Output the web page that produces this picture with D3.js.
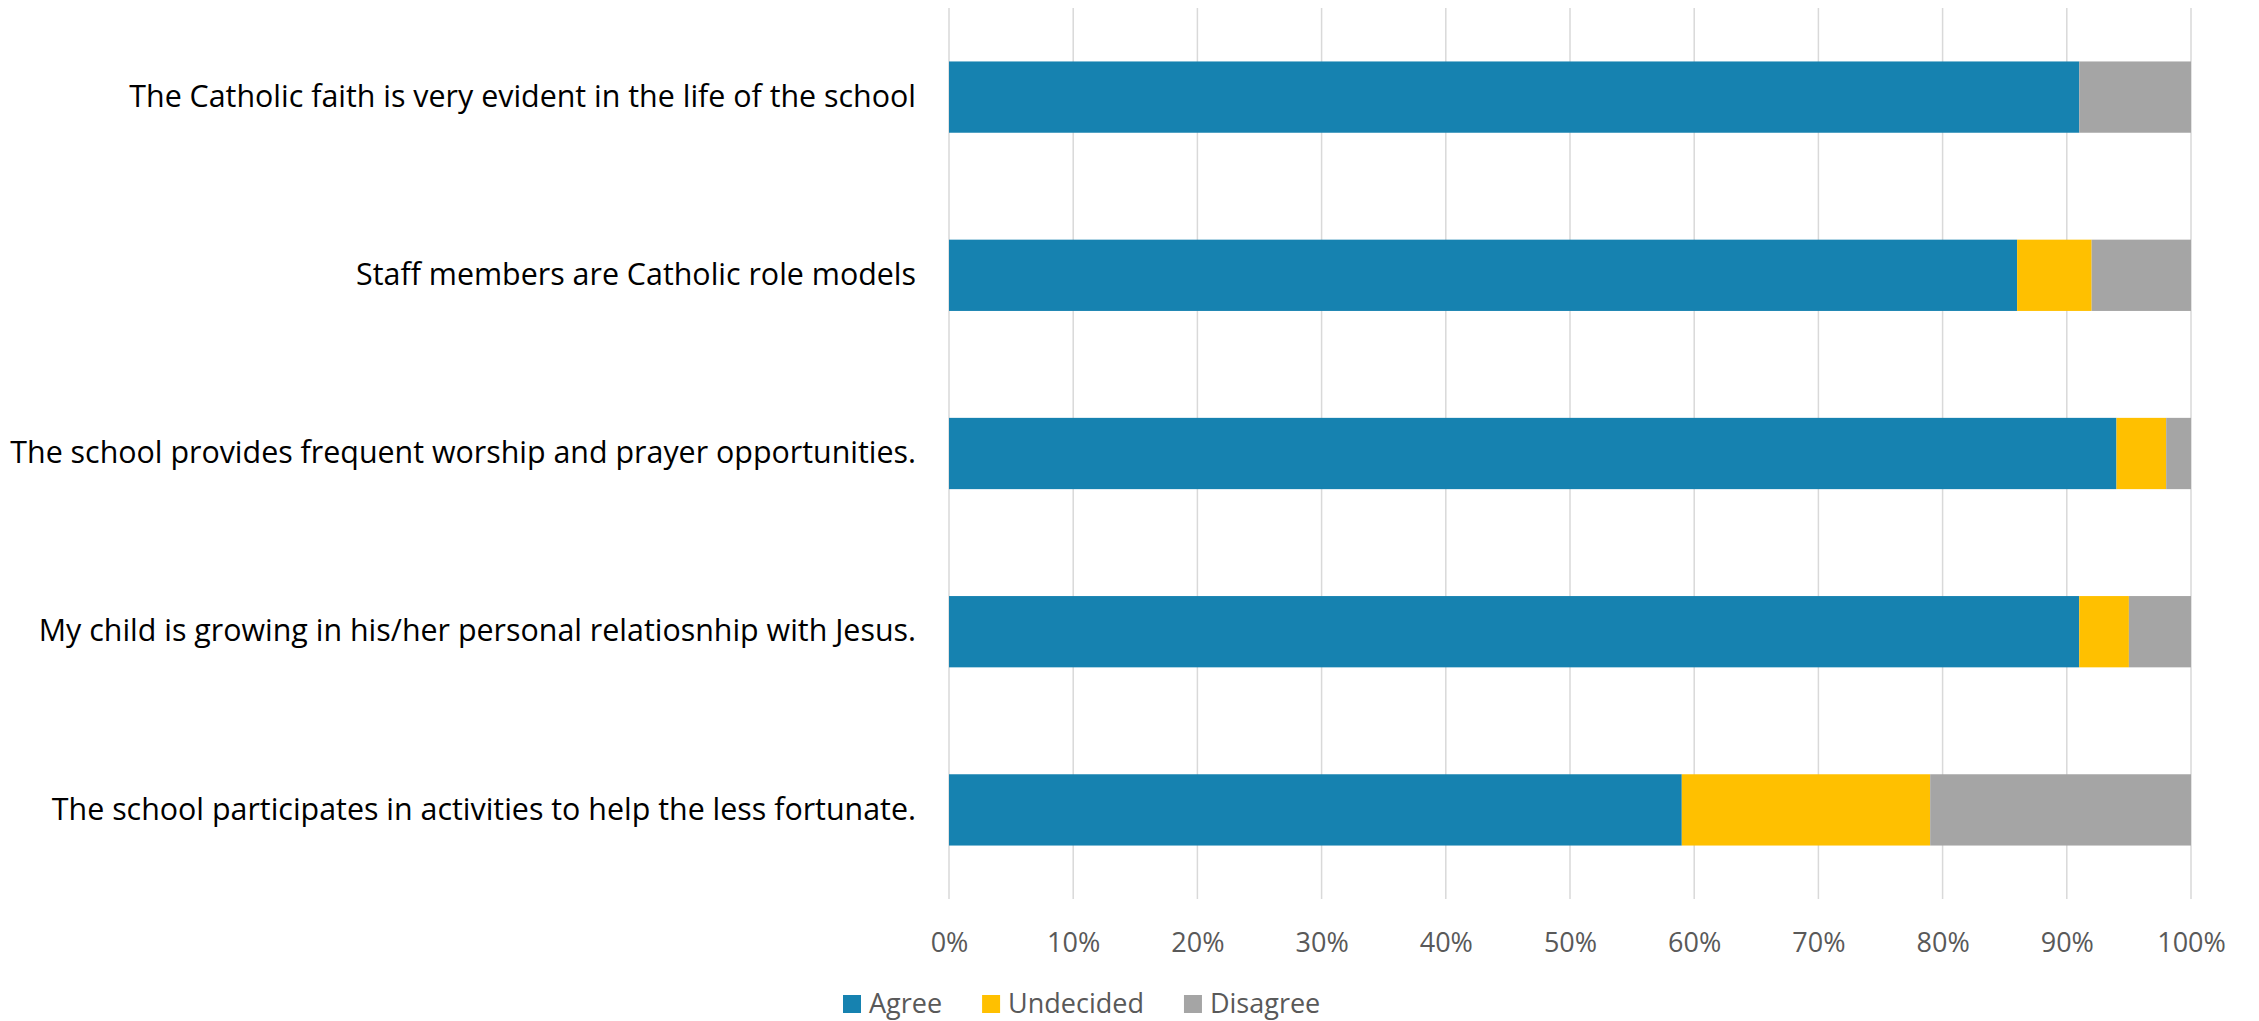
<!DOCTYPE html>
<html>
<head>
<meta charset="utf-8">
<script src="https://cdn.jsdelivr.net/npm/d3@7"></script>
<style>
  html, body { margin: 0; padding: 0; background: #fff; }
  svg { display: block; }
</style>
</head>
<body>
<svg id="chart" width="2259" height="1021"></svg>
<script>
// Survey statements (top to bottom) and response shares in percent
const categories = [
  "The Catholic faith is very evident in the life of the school",
  "Staff members are Catholic role models",
  "The school provides frequent worship and prayer opportunities.",
  "My child is growing in his/her personal relatiosnhip with Jesus.",
  "The school participates in activities to help the less fortunate."
];
const agree     = [91, 86, 94, 91, 59];
const undecided = [0, 6, 4, 4, 20];
const disagree  = [9, 8, 2, 5, 21];

const seriesNames = ["Agree", "Undecided", "Disagree"];
const seriesColors = ["#1682B0", "#FFC000", "#A5A5A5"];
const tickValues = [0, 10, 20, 30, 40, 50, 60, 70, 80, 90, 100];

const W = 2259, H = 1021;
const margin = { top: 8, right: 68, bottom: 122, left: 949 };
const plotW = W - margin.left - margin.right;
const plotH = H - margin.top - margin.bottom;

const svg = d3.select("#chart");
const g = svg.append("g").attr("transform", `translate(${margin.left},${margin.top})`);

const rows = categories.map((c, i) => ({
  category: c, Agree: agree[i], Undecided: undecided[i], Disagree: disagree[i]
}));

const x = d3.scaleLinear().domain([0, 100]).range([0, plotW]);
const y = d3.scaleBand().domain(categories).range([0, plotH])
  .paddingInner(0.6).paddingOuter(0.3);
const color = d3.scaleOrdinal().domain(seriesNames).range(seriesColors);

// Vertical gridlines
g.append("g").selectAll("line").data(tickValues).join("line")
  .attr("x1", d => x(d)).attr("x2", d => x(d))
  .attr("y1", 0).attr("y2", plotH)
  .attr("stroke", "#D9D9D9").attr("stroke-width", 1.5);

// Stacked bars
const stacked = d3.stack().keys(seriesNames)(rows);
g.append("g").selectAll("g").data(stacked).join("g")
  .attr("fill", d => color(d.key))
  .selectAll("rect").data(d => d).join("rect")
  .attr("x", d => x(d[0]))
  .attr("width", d => x(d[1]) - x(d[0]))
  .attr("y", d => y(d.data.category))
  .attr("height", y.bandwidth());

// Percentage axis
const xAxis = d3.axisBottom(x).tickValues(tickValues)
  .tickFormat(d => d + "%").tickSize(0).tickPadding(34);
const ax = g.append("g").attr("transform", `translate(0,${plotH})`).call(xAxis);
ax.select(".domain").remove();
ax.selectAll("text")
  .attr("font-family", "'Open Sans', sans-serif")
  .attr("font-size", 27)
  .attr("fill", "#595959");

// Statement labels
const yAxis = d3.axisLeft(y).tickSize(0).tickPadding(33);
const ay = g.append("g").call(yAxis);
ay.select(".domain").remove();
ay.selectAll("text")
  .attr("font-family", "'Open Sans', sans-serif")
  .attr("font-size", 30.4)
  .attr("fill", "#000");

// Legend
const legend = svg.append("g").attr("transform", "translate(843,1004)");
const ctx = document.createElement("canvas").getContext("2d");
ctx.font = "27px 'Open Sans'";
const sw = 18, gapText = 8, gapItem = 40;
let cx = 0;
seriesNames.forEach(n => {
  const item = legend.append("g").attr("transform", `translate(${cx},0)`);
  item.append("rect").attr("x", 0).attr("y", -9).attr("width", sw).attr("height", sw)
    .attr("fill", color(n));
  item.append("text").attr("x", sw + gapText).attr("y", 0).attr("dy", "0.35em")
    .attr("font-family", "'Open Sans', sans-serif").attr("font-size", 27)
    .attr("fill", "#595959").text(n);
  cx += sw + gapText + ctx.measureText(n).width + gapItem;
});
</script>
</body>
</html>
